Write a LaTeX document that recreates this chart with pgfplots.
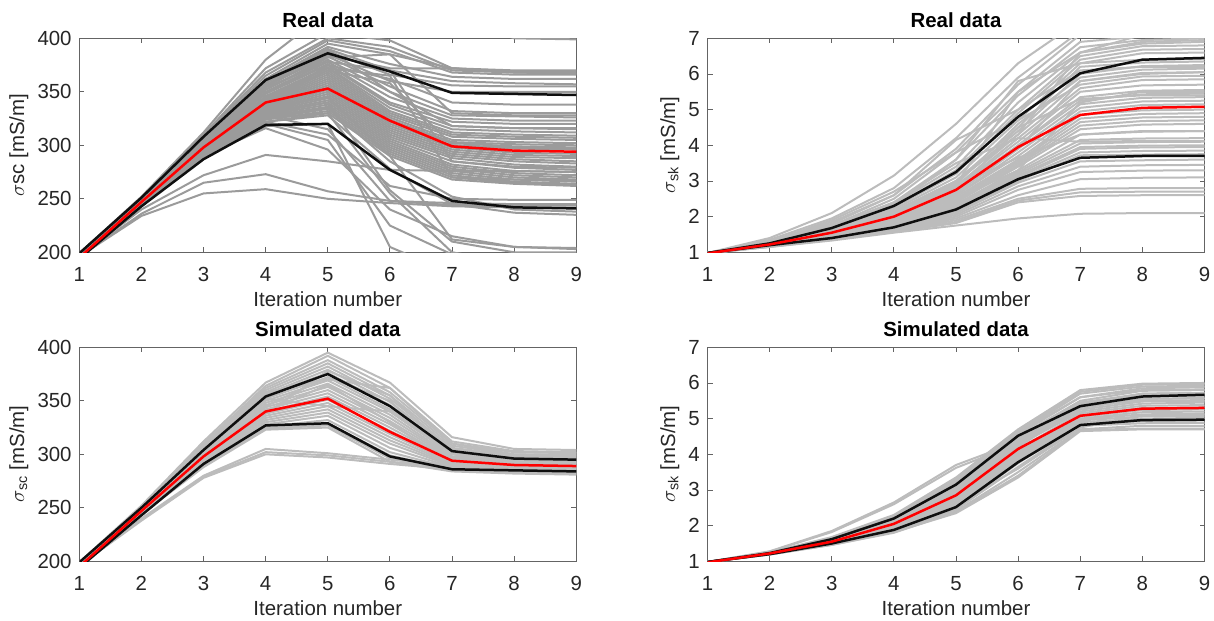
\documentclass[border=0pt]{standalone}
\usepackage{fontspec}
\setmainfont{Liberation Sans}
\usepackage{pgfplots}
\pgfplotsset{compat=1.18}
\definecolor{labcol}{RGB}{38,38,38}
\definecolor{axcol}{RGB}{100,100,100}
\definecolor{gA}{RGB}{155,155,155}
\definecolor{gB}{RGB}{188,188,188}
\definecolor{mred}{RGB}{255,0,0}
\definecolor{mblk}{RGB}{15,15,15}
\newcommand\fs{\fontsize{20.5}{24}\selectfont}
\def\gcol{gA}
\newcommand\G[9]{\addplot[color=\gcol, line width=2bp, mark=none] coordinates {(1,#1)(2,#2)(3,#3)(4,#4)(5,#5)(6,#6)(7,#7)(8,#8)(9,#9)};}
\pgfplotsset{
 every axis title/.style={font=\bfseries\fontsize{20.5}{24}\selectfont, text=black, at={(0.5,1)}, anchor=base, yshift=10.5bp, inner sep=0pt},
 mat/.style={
  scale only axis, width=497bp, height=214bp, anchor=south west,
  xmin=1, xmax=9, xtick={1,2,...,9},
  axis line style={axcol, line width=0.9bp},
  every tick/.style={axcol, line width=0.9bp},
  major tick length=5bp, tick align=inside,
  xtick pos=both, ytick pos=both,
  xticklabel pos=lower, yticklabel pos=left,
  /pgf/number format/assume math mode=true,
  tick label style={font=\fs, text=labcol},
  xticklabel style={anchor=base, yshift=-29bp, inner sep=0pt},
  yticklabel style={anchor=east, xshift=-7.5bp, inner sep=0pt},
  xlabel={Iteration number},
  xlabel style={font=\fs, text=labcol, at={(axis description cs:0.5,0)}, anchor=base, yshift=-54bp, inner sep=0pt},
  ylabel style={font=\fs, text=labcol, at={(ticklabel cs:0.5,9bp)}, anchor=near ticklabel, inner sep=0pt},
  clip=true,
 },
 redl/.style={color=mred, line width=2.5bp, mark=none},
 blkl/.style={color=mblk, line width=2.5bp, mark=none},
}
\begin{document}
\begin{tikzpicture}
\useasboundingbox (0,0) rectangle (1214bp,621bp);
% ---------------- top left ----------------
\def\gcol{gA}
\begin{axis}[mat, at={(79.3bp,368.7bp)}, ymin=200, ymax=400, ytick={200,250,...,400},
  title={Real data}, ylabel={$\sigma$sc [mS/m]}]
\G{199}{251}{310}{372}{405}{398}{372}{370}{370}
\G{199}{251}{309}{368}{400}{392}{370}{368}{368}
\G{198}{250}{308}{365}{398}{388}{368}{366}{366}
\G{199}{252}{312}{380}{425}{440}{420}{400}{399}
\G{198}{250}{307}{362}{395}{385}{372}{368}{367}
\G{198}{249}{306}{360}{392}{376}{364}{362}{362}
\G{198}{250}{305}{358}{390}{370}{360}{358}{357}
\G{197}{249}{304}{356}{388}{366}{356}{355}{355}
\G{197}{249}{303}{355}{385}{360}{350}{350}{350}
\G{198}{250}{306}{360}{384}{372}{372}{369}{369}
\G{198}{249}{305}{355}{383}{355}{332}{330}{330}
\G{197}{248}{303}{352}{380}{350}{328}{327}{326}
\G{197}{248}{302}{350}{378}{345}{325}{323}{323}
\G{197}{248}{302}{349}{376}{340}{322}{320}{320}
\G{197}{247}{301}{348}{375}{338}{318}{316}{316}
\G{196}{247}{300}{346}{373}{335}{315}{313}{312}
\G{196}{247}{300}{345}{372}{332}{312}{310}{309}
\G{196}{246}{299}{344}{370}{330}{310}{308}{307}
\G{196}{246}{299}{343}{368}{328}{308}{306}{305}
\G{196}{246}{298}{342}{366}{326}{305}{303}{302}
\G{196}{246}{298}{341}{364}{324}{303}{301}{300}
\G{196}{246}{298}{340}{362}{322}{302}{299}{298}
\G{196}{246}{297}{339}{360}{320}{300}{297}{296}
\G{196}{245}{297}{338}{358}{318}{298}{293}{292}
\G{196}{245}{296}{337}{356}{316}{296}{291}{290}
\G{196}{245}{296}{336}{354}{314}{294}{289}{288}
\G{196}{245}{295}{335}{352}{312}{292}{287}{285}
\G{196}{245}{295}{334}{350}{310}{290}{285}{283}
\G{196}{245}{294}{333}{348}{308}{288}{282}{280}
\G{196}{245}{294}{332}{346}{306}{285}{279}{277}
\G{196}{244}{293}{331}{344}{304}{282}{276}{275}
\G{196}{244}{293}{330}{342}{302}{280}{274}{272}
\G{196}{244}{292}{329}{340}{300}{278}{272}{270}
\G{196}{244}{292}{328}{338}{298}{276}{270}{268}
\G{196}{244}{291}{327}{336}{296}{274}{268}{266}
\G{196}{244}{290}{325}{334}{294}{272}{266}{264}
\G{196}{243}{290}{324}{332}{292}{270}{265}{263}
\G{196}{243}{289}{322}{330}{290}{268}{264}{262}
\G{197}{248}{302}{352}{382}{385}{330}{328}{328}
\G{197}{248}{303}{354}{378}{370}{285}{280}{279}
\G{197}{247}{300}{345}{372}{365}{270}{268}{267}
\G{196}{246}{298}{342}{370}{358}{300}{298}{297}
\G{197}{249}{304}{358}{390}{350}{318}{316}{315}
\G{196}{246}{297}{338}{375}{362}{340}{338}{338}
\G{196}{240}{272}{291}{285}{277}{276}{276}{275}
\G{196}{236}{265}{273}{257}{248}{244}{244}{244}
\G{196}{234}{255}{259}{250}{246}{243}{242}{242}
\G{196}{245}{290}{318}{320}{205}{180}{180}{180}
\G{196}{245}{292}{320}{305}{225}{198}{195}{195}
\G{196}{244}{290}{316}{296}{240}{215}{205}{203}
\G{196}{246}{295}{330}{340}{258}{210}{200}{200}
\G{196}{246}{296}{335}{345}{290}{212}{205}{204}
\G{196}{245}{293}{325}{330}{255}{200}{190}{190}
\G{196}{245}{294}{328}{315}{248}{246}{245}{245}
\G{196}{245}{292}{322}{310}{262}{250}{249}{249}
\G{196}{244}{291}{326}{335}{285}{252}{240}{238}
\G{196}{244}{290}{322}{328}{278}{245}{237}{235}
\addplot[blkl] coordinates {(1,199)(2,251)(3,308)(4,361)(5,386)(6,369)(7,349)(8,348)(9,347)};
\addplot[blkl] coordinates {(1,194)(2,243)(3,287)(4,319)(5,320)(6,277)(7,248)(8,242)(9,241)};
\addplot[redl] coordinates {(1,195)(2,247)(3,298)(4,340)(5,353)(6,323)(7,299)(8,295)(9,294)};
\end{axis}
% ---------------- top right ----------------
\def\gcol{gB}
\begin{axis}[mat, at={(707.5bp,368.7bp)}, ymin=1, ymax=7, ytick={1,2,...,7},
  title={Real data}, ylabel={$\sigma$\textsubscript{sk} [mS/m]}]
\G{0.98}{1.4}{2.1}{3.15}{4.6}{6.3}{7.5}{7.8}{7.8}
\G{0.98}{1.35}{1.95}{2.8}{4.2}{5.9}{7.2}{7.6}{7.6}
\G{0.98}{1.3}{1.8}{2.6}{3.9}{5.7}{7.1}{7.3}{7.3}
\G{0.98}{1.3}{1.75}{2.5}{3.8}{5.5}{6.9}{7.05}{7.05}
\G{0.98}{1.28}{1.72}{2.4}{3.6}{5.4}{6.75}{6.95}{7.0}
\G{0.98}{1.27}{1.7}{2.35}{3.4}{5.2}{6.6}{6.85}{6.9}
\G{0.98}{1.26}{1.7}{2.3}{3.3}{5.0}{6.5}{6.78}{6.8}
\G{0.98}{1.25}{1.65}{2.25}{3.2}{4.9}{6.4}{6.68}{6.7}
\G{0.98}{1.25}{1.62}{2.2}{3.1}{4.7}{6.3}{6.58}{6.6}
\G{0.98}{1.25}{1.6}{2.15}{3.0}{4.5}{6.2}{6.32}{6.35}
\G{0.98}{1.24}{1.6}{2.1}{2.95}{4.4}{6.0}{6.22}{6.25}
\G{0.98}{1.24}{1.58}{2.1}{2.9}{4.6}{5.9}{6.12}{6.15}
\G{0.98}{1.23}{1.58}{2.05}{2.85}{4.3}{5.8}{6.03}{6.05}
\G{0.98}{1.3}{1.9}{2.7}{3.8}{4.7}{5.7}{5.93}{5.95}
\G{0.98}{1.23}{1.56}{2.05}{2.8}{4.2}{5.6}{5.83}{5.85}
\G{0.98}{1.22}{1.55}{2.0}{2.8}{4.1}{5.5}{5.68}{5.7}
\G{0.98}{1.22}{1.55}{2.0}{2.75}{4.0}{5.35}{5.53}{5.55}
\G{0.98}{1.22}{1.54}{1.98}{2.7}{4.0}{5.25}{5.43}{5.45}
\G{0.98}{1.22}{1.54}{1.95}{2.65}{3.9}{5.15}{5.33}{5.35}
\G{0.98}{1.21}{1.52}{1.95}{2.6}{3.8}{5.05}{5.23}{5.25}
\G{0.98}{1.21}{1.52}{1.92}{2.6}{3.7}{4.95}{5.13}{5.15}
\G{0.98}{1.21}{1.5}{1.9}{2.55}{3.6}{4.85}{4.98}{5.0}
\G{0.98}{1.2}{1.5}{1.88}{2.5}{3.55}{4.75}{4.88}{4.9}
\G{0.98}{1.2}{1.48}{1.85}{2.45}{3.5}{4.65}{4.78}{4.8}
\G{0.98}{1.2}{1.48}{1.85}{2.4}{3.45}{4.55}{4.68}{4.7}
\G{0.98}{1.2}{1.46}{1.82}{2.4}{3.4}{4.45}{4.58}{4.6}
\G{0.98}{1.2}{1.45}{1.8}{2.35}{3.3}{4.3}{4.38}{4.4}
\G{0.98}{1.19}{1.45}{1.8}{2.3}{3.25}{4.15}{4.19}{4.2}
\G{0.98}{1.19}{1.44}{1.78}{2.3}{3.2}{4.05}{4.09}{4.1}
\G{0.98}{1.19}{1.44}{1.76}{2.25}{3.15}{3.95}{3.99}{4.0}
\G{0.98}{1.19}{1.43}{1.75}{2.25}{3.1}{3.9}{3.94}{3.95}
\G{0.98}{1.18}{1.42}{1.72}{2.2}{3.05}{3.8}{3.84}{3.85}
\G{0.98}{1.18}{1.42}{1.7}{2.15}{3.0}{3.72}{3.74}{3.75}
\G{0.98}{1.18}{1.4}{1.68}{2.1}{2.95}{3.55}{3.58}{3.6}
\G{0.98}{1.17}{1.4}{1.66}{2.05}{2.85}{3.4}{3.44}{3.45}
\G{0.98}{1.17}{1.38}{1.64}{2.0}{2.75}{3.25}{3.29}{3.3}
\G{0.98}{1.16}{1.37}{1.62}{1.95}{2.6}{3.05}{3.09}{3.1}
\G{0.98}{1.16}{1.36}{1.6}{1.9}{2.5}{2.78}{2.8}{2.8}
\G{0.98}{1.16}{1.36}{1.58}{1.85}{2.45}{2.68}{2.7}{2.7}
\G{0.98}{1.15}{1.35}{1.57}{1.82}{2.4}{2.58}{2.6}{2.6}
\G{0.98}{1.15}{1.33}{1.55}{1.75}{1.95}{2.08}{2.1}{2.1}
\G{0.98}{1.3}{1.85}{2.6}{4.15}{5.0}{6.1}{6.2}{6.2}
\G{0.98}{1.25}{1.7}{2.3}{3.6}{5.8}{6.3}{6.4}{6.42}
\G{0.98}{1.22}{1.6}{2.1}{2.9}{5.5}{6.6}{7.1}{7.2}
\G{0.98}{1.24}{1.62}{2.15}{3.0}{4.3}{6.6}{6.9}{6.95}
\G{0.98}{1.21}{1.55}{2.0}{2.7}{4.5}{5.3}{5.4}{5.4}
\G{0.98}{1.2}{1.5}{1.9}{2.5}{3.3}{5.2}{5.5}{5.5}
\G{0.98}{1.22}{1.56}{2.05}{2.85}{3.65}{4.3}{4.4}{4.4}
\G{0.98}{1.26}{1.75}{2.4}{3.5}{4.2}{4.1}{4.12}{4.12}
\G{0.98}{1.23}{1.6}{2.1}{2.9}{3.9}{5.8}{6.0}{6.05}
\addplot[blkl] coordinates {(1,0.98)(2,1.25)(3,1.68)(4,2.3)(5,3.25)(6,4.8)(7,6.02)(8,6.4)(9,6.45)};
\addplot[blkl] coordinates {(1,0.98)(2,1.2)(3,1.4)(4,1.7)(5,2.2)(6,3.05)(7,3.65)(8,3.7)(9,3.7)};
\addplot[redl] coordinates {(1,0.97)(2,1.22)(3,1.55)(4,2.0)(5,2.75)(6,3.95)(7,4.85)(8,5.05)(9,5.08)};
\end{axis}
% ---------------- bottom left ----------------
\def\gcol{gB}
\begin{axis}[mat, at={(79.3bp,59.7bp)}, ymin=200, ymax=400, ytick={200,250,...,400},
  title={Simulated data}, ylabel={$\sigma$\textsubscript{sc} [mS/m]}]
\G{199}{252}{312}{367}{395}{367}{316}{305}{304}
\G{199}{251}{310}{364}{392}{362}{312}{303}{302}
\G{198}{251}{309}{362}{388}{358}{310}{302}{301}
\G{198}{250}{308}{360}{385}{355}{308}{300}{300}
\G{198}{250}{307}{358}{382}{352}{306}{299}{298}
\G{198}{250}{306}{356}{379}{349}{305}{298}{297}
\G{197}{249}{305}{355}{376}{346}{303}{297}{296}
\G{197}{249}{304}{352}{372}{342}{301}{296}{295}
\G{197}{249}{303}{350}{369}{340}{300}{295}{294}
\G{197}{248}{302}{348}{366}{337}{298}{294}{293}
\G{197}{248}{301}{346}{363}{334}{297}{293}{292}
\G{196}{248}{300}{344}{360}{331}{296}{292}{291}
\G{196}{247}{299}{342}{357}{328}{295}{291}{290}
\G{196}{247}{298}{340}{354}{325}{294}{290}{289}
\G{196}{247}{297}{338}{351}{322}{293}{289}{288}
\G{196}{246}{296}{336}{348}{319}{292}{288}{287}
\G{196}{246}{295}{334}{345}{316}{291}{288}{287}
\G{196}{246}{294}{332}{342}{313}{290}{287}{286}
\G{196}{245}{293}{330}{339}{310}{289}{286}{285}
\G{196}{245}{292}{328}{336}{306}{288}{285}{284}
\G{196}{245}{291}{326}{332}{302}{287}{284}{283}
\G{196}{244}{290}{325}{329}{299}{286}{284}{283}
\G{195}{244}{289}{324}{327}{296}{285}{283}{282}
\G{195}{244}{288}{323}{325}{293}{284}{282}{281}
\G{196}{240}{280}{305}{301}{295}{290}{289}{289}
\G{196}{239}{279}{302}{299}{293}{288}{287}{287}
\G{196}{238}{278}{300}{297}{291}{286}{285}{285}
\G{198}{250}{306}{358}{370}{362}{310}{300}{299}
\G{197}{248}{302}{345}{372}{350}{295}{290}{289}
\G{197}{249}{303}{340}{365}{330}{290}{287}{286}
\G{197}{248}{301}{352}{345}{340}{300}{293}{292}
\G{196}{246}{298}{338}{378}{355}{302}{295}{294}
\addplot[blkl] coordinates {(1,199)(2,250)(3,304)(4,354)(5,375)(6,345)(7,303)(8,296)(9,295)};
\addplot[blkl] coordinates {(1,194)(2,243)(3,291)(4,327)(5,329)(6,298)(7,286)(8,285)(9,284)};
\addplot[redl] coordinates {(1,195)(2,247)(3,298)(4,340)(5,352)(6,321)(7,294)(8,290)(9,289)};
\end{axis}
% ---------------- bottom right ----------------
\def\gcol{gB}
\begin{axis}[mat, at={(707.5bp,59.7bp)}, ymin=1, ymax=7, ytick={1,2,...,7},
  title={Simulated data}, ylabel={$\sigma$\textsubscript{sk} [mS/m]}]
\G{0.98}{1.28}{1.85}{2.65}{3.7}{4.35}{5.45}{5.7}{5.72}
\G{0.98}{1.27}{1.82}{2.6}{3.62}{4.3}{5.3}{5.55}{5.58}
\G{0.98}{1.25}{1.68}{2.3}{3.35}{4.7}{5.8}{5.98}{6.0}
\G{0.98}{1.25}{1.66}{2.28}{3.3}{4.65}{5.75}{5.95}{5.97}
\G{0.98}{1.24}{1.65}{2.25}{3.25}{4.6}{5.7}{5.9}{5.92}
\G{0.98}{1.24}{1.64}{2.22}{3.2}{4.55}{5.6}{5.85}{5.88}
\G{0.98}{1.23}{1.62}{2.2}{3.15}{4.5}{5.5}{5.78}{5.8}
\G{0.98}{1.23}{1.6}{2.18}{3.1}{4.45}{5.4}{5.7}{5.72}
\G{0.98}{1.23}{1.6}{2.15}{3.05}{4.4}{5.35}{5.62}{5.65}
\G{0.98}{1.23}{1.58}{2.12}{3.0}{4.35}{5.3}{5.55}{5.58}
\G{0.98}{1.22}{1.57}{2.1}{2.95}{4.3}{5.25}{5.48}{5.5}
\G{0.98}{1.22}{1.56}{2.08}{2.9}{4.25}{5.2}{5.42}{5.45}
\G{0.98}{1.22}{1.55}{2.05}{2.85}{4.15}{5.15}{5.36}{5.38}
\G{0.98}{1.22}{1.54}{2.03}{2.8}{4.1}{5.1}{5.3}{5.32}
\G{0.98}{1.21}{1.53}{2.0}{2.75}{4.05}{5.05}{5.24}{5.26}
\G{0.98}{1.21}{1.52}{1.98}{2.7}{4.0}{5.0}{5.18}{5.2}
\G{0.98}{1.21}{1.52}{1.96}{2.65}{3.95}{4.98}{5.12}{5.14}
\G{0.98}{1.21}{1.51}{1.94}{2.6}{3.9}{4.95}{5.06}{5.08}
\G{0.98}{1.2}{1.5}{1.92}{2.55}{3.85}{4.9}{5.0}{5.02}
\G{0.98}{1.2}{1.49}{1.9}{2.5}{3.75}{4.85}{4.93}{4.95}
\G{0.98}{1.2}{1.48}{1.88}{2.45}{3.65}{4.8}{4.87}{4.88}
\G{0.98}{1.2}{1.47}{1.85}{2.4}{3.5}{4.7}{4.8}{4.8}
\G{0.98}{1.19}{1.46}{1.82}{2.35}{3.35}{4.65}{4.7}{4.7}
\G{0.98}{1.19}{1.46}{1.8}{2.38}{3.4}{4.68}{4.72}{4.72}
\G{0.98}{1.22}{1.56}{2.1}{2.95}{4.45}{5.45}{5.65}{5.66}
\G{0.98}{1.21}{1.54}{2.05}{2.8}{4.2}{5.35}{5.5}{5.52}
\G{0.98}{1.2}{1.5}{1.95}{2.6}{3.6}{4.75}{5.1}{5.12}
\G{0.98}{1.22}{1.58}{2.12}{3.05}{4.6}{5.6}{5.8}{5.82}
\addplot[blkl] coordinates {(1,0.98)(2,1.23)(3,1.62)(4,2.2)(5,3.15)(6,4.52)(7,5.35)(8,5.62)(9,5.67)};
\addplot[blkl] coordinates {(1,0.98)(2,1.2)(3,1.5)(4,1.88)(5,2.52)(6,3.78)(7,4.82)(8,4.96)(9,4.97)};
\addplot[redl] coordinates {(1,0.97)(2,1.22)(3,1.55)(4,2.05)(5,2.85)(6,4.15)(7,5.08)(8,5.28)(9,5.3)};
\end{axis}
\end{tikzpicture}
\end{document}
